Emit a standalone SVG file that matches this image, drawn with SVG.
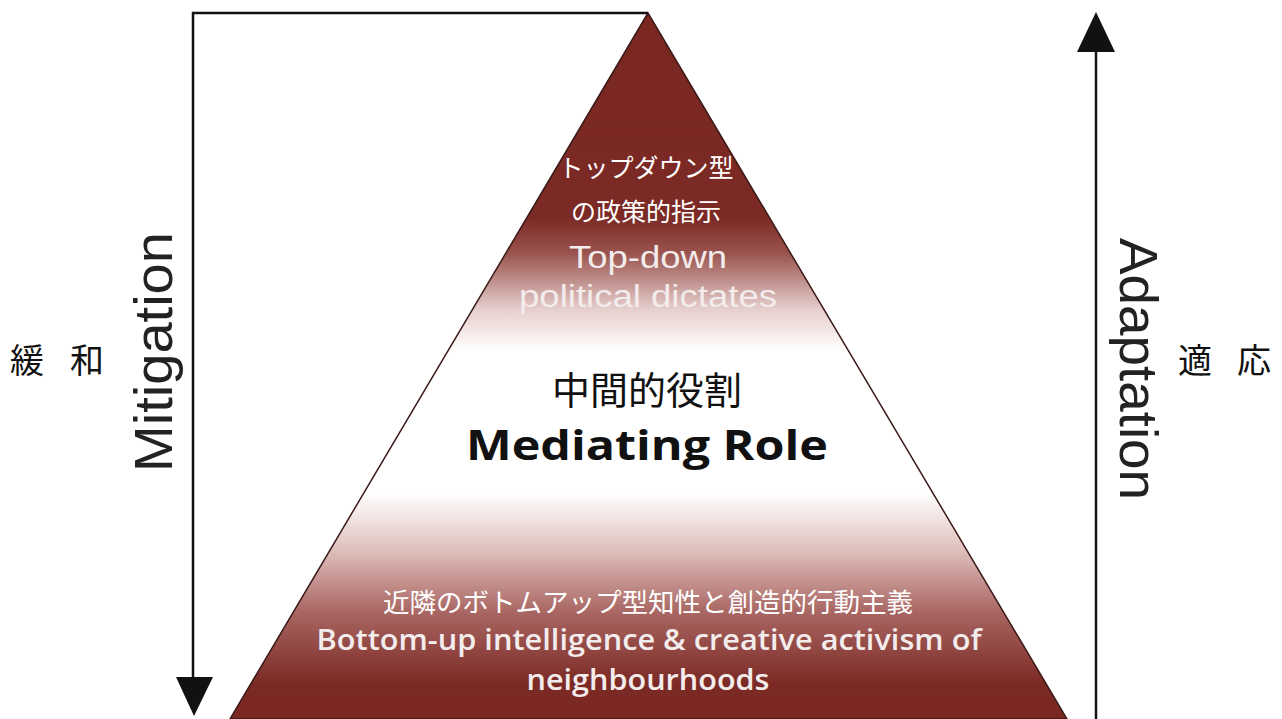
<svg xmlns="http://www.w3.org/2000/svg" width="1282" height="719" viewBox="0 0 1282 719">
<defs>
<linearGradient id="pg" gradientUnits="userSpaceOnUse" x1="0" y1="13" x2="0" y2="719">
<stop offset="0" stop-color="#7a2722"/>
<stop offset="0.29" stop-color="#7c2a25"/>
<stop offset="0.34" stop-color="#9a534e"/>
<stop offset="0.42" stop-color="#e6cfcd"/>
<stop offset="0.48" stop-color="#ffffff"/>
<stop offset="0.68" stop-color="#ffffff"/>
<stop offset="0.76" stop-color="#e0c0bd"/>
<stop offset="0.85" stop-color="#a86561"/>
<stop offset="0.95" stop-color="#7c2a25"/>
<stop offset="1" stop-color="#7a2722"/>
</linearGradient>
</defs>
<style>
.ln{fill:none;stroke:#111;stroke-width:2.5}
.ah{fill:#111}
.jw{font-family:"Noto Sans CJK JP",sans-serif;fill:#fff;text-anchor:middle}
.jb{font-family:"Noto Sans CJK JP",sans-serif;fill:#111;text-anchor:middle}
.en{font-family:"Liberation Sans",Arial,sans-serif;fill:#f3ecec;text-anchor:middle}
.cb{font-family:"Open Sans","Liberation Sans",sans-serif;text-anchor:middle}
.side{font-family:"Liberation Sans",Arial,sans-serif;fill:#222;text-anchor:middle}
</style>
<g id="pyramid">
<polygon points="648,13 230,719 1067,719" fill="url(#pg)" stroke="#3a1a18" stroke-width="1.5"/>
<text class="jw" x="646" y="177" font-size="25">トップダウン型</text>
<text class="jw" x="646" y="221" font-size="25">の政策的指示</text>
<text class="en" x="648" y="268" font-size="31" textLength="158" lengthAdjust="spacingAndGlyphs">Top-down</text>
<text class="en" x="648" y="307" font-size="31" textLength="258" lengthAdjust="spacingAndGlyphs">political dictates</text>
<text class="jb" x="647" y="404" font-size="38">中間的役割</text>
<text class="cb" x="647" y="460" font-size="42" font-weight="bold" fill="#111" textLength="362" lengthAdjust="spacingAndGlyphs">Mediating Role</text>
<text class="jw" x="648" y="612" font-size="26.5">近隣のボトムアップ型知性と創造的行動主義</text>
<text class="cb" x="649" y="650" font-size="29" font-weight="600" fill="#f3ecec" textLength="665" lengthAdjust="spacingAndGlyphs">Bottom-up intelligence &amp; creative activism of</text>
<text class="cb" x="648" y="690" font-size="29" font-weight="600" fill="#f3ecec" textLength="243" lengthAdjust="spacingAndGlyphs">neighbourhoods</text>
</g>
<g id="mitigation">
<text class="side" transform="translate(172,352) rotate(-90)" font-size="54" textLength="240" lengthAdjust="spacingAndGlyphs">Mitigation</text>
<text class="jb" x="27" y="373" font-size="34">緩</text>
<text class="jb" x="87" y="373" font-size="34">和</text>
</g>
<g id="adaptation">
<text class="side" transform="translate(1120,369) rotate(90)" font-size="54" textLength="262" lengthAdjust="spacingAndGlyphs">Adaptation</text>
<text class="jb" x="1195" y="373" font-size="34">適</text>
<text class="jb" x="1254" y="373" font-size="34">応</text>
</g>
<g id="connectors">
<polyline class="ln" points="648,13 193,13 193,680"/>
<polygon class="ah" points="176,677 213,677 194,716"/>
<line class="ln" x1="1096" y1="719" x2="1096" y2="50"/>
<polygon class="ah" points="1077,52 1115,52 1096,12"/>
</g>
</svg>
